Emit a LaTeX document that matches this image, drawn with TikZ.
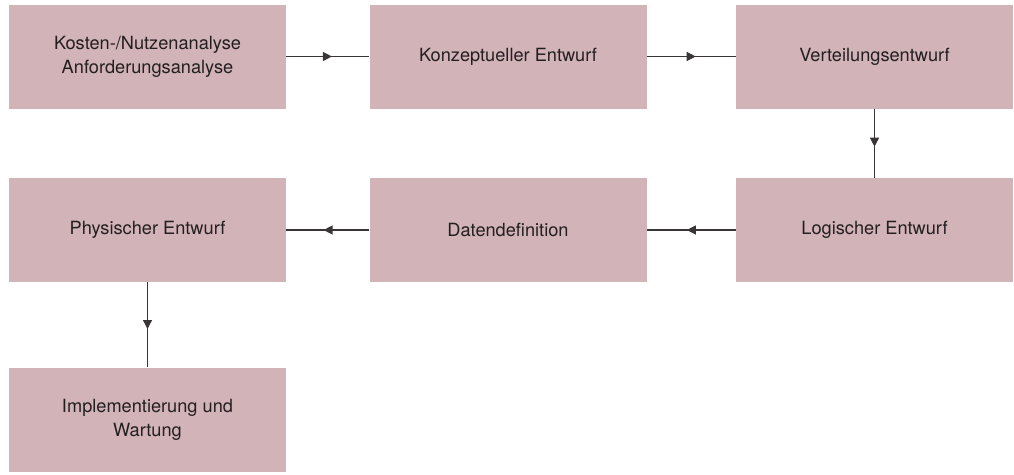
\documentclass[tikz,border=0pt]{standalone}
\usepackage{fontspec}
\setmainfont{TeX Gyre Heros}
\usetikzlibrary{arrows.meta,decorations.markings}

\definecolor{boxrose}{RGB}{209,179,184}
\definecolor{textgray}{RGB}{35,31,32}

\tikzset{
    phase/.style={fill=boxrose, draw=none, minimum width=277pt, minimum height=104pt,
        align=center, text=textgray, font=\fontsize{18.2}{24}\selectfont},
    flow/.style={line width=1.2pt, draw=textgray!90,
        decoration={markings, mark=at position 0.55 with {\arrow{Triangle[length=9pt,width=9pt]}}},
        postaction={decorate}}
}

\begin{document}
\begin{tikzpicture}[x=1pt, y=-1pt]
    \useasboundingbox (0,0) rectangle (1014,474);

    \node[phase] (kosten)  at (147.5,56.5) {Kosten-/Nutzenanalyse\\Anforderungsanalyse};
    \node[phase] (konzept) at (508,56.5)   {Konzeptueller Entwurf};
    \node[phase] (vert)    at (874.5,56.5) {Verteilungsentwurf};
    \node[phase] (logisch) at (874.5,230)  {Logischer Entwurf};
    \node[phase] (daten)   at (508,230)    {Datendefinition};
    \node[phase] (phys)    at (147.5,230)  {Physischer Entwurf};
    \node[phase] (impl)    at (147.5,419.5) {Implementierung und\\Wartung};

        \draw[flow] (kosten) -- (konzept);
        \draw[flow] (konzept) -- (vert);
        \draw[flow] (vert) -- (logisch);
        \draw[flow] (logisch) -- (daten);
        \draw[flow] (daten) -- (phys);
        \draw[flow] (phys) -- (impl);
\end{tikzpicture}
\end{document}
